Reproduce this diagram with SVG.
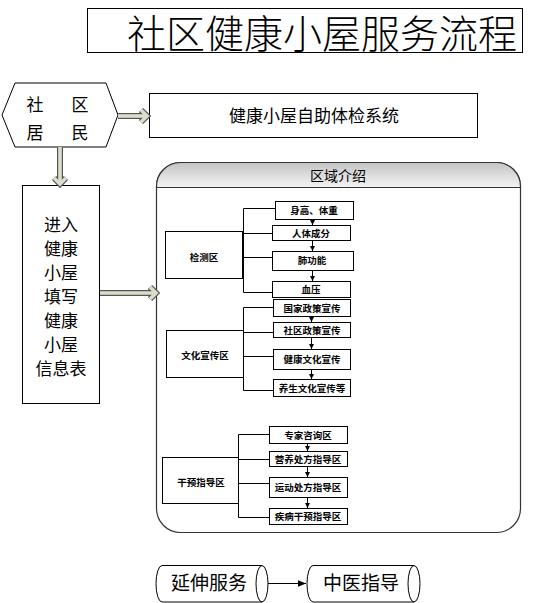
<svg xmlns="http://www.w3.org/2000/svg" width="553" height="603" viewBox="0 0 553 603">
<defs>
<linearGradient id="hdr" x1="0" y1="0" x2="0" y2="1">
<stop offset="0" stop-color="#c4c4c4"/>
<stop offset="1" stop-color="#f4f4f4"/>
</linearGradient>
<marker id="ah" viewBox="0 0 10 10" refX="10" refY="5" markerWidth="5" markerHeight="5" orient="auto" markerUnits="userSpaceOnUse">
<path d="M0,0 L10,5 L0,10 Z" fill="#000"/>
</marker>
<marker id="ah2" viewBox="0 0 10 10" refX="10" refY="5" markerWidth="8" markerHeight="8" orient="auto" markerUnits="userSpaceOnUse">
<path d="M0,1 L10,5 L0,9 Z" fill="#000"/>
</marker>
</defs>
<style>
text{font-family:"Noto Sans CJK SC","Liberation Sans",sans-serif;fill:#000;text-anchor:middle}
.box{fill:#fff;stroke:#000;stroke-width:1}
.sm{font-size:9.5px;font-weight:bold}
.fm{font-size:17px}
.br{fill:none;stroke:#000;stroke-width:1}
.big-o{fill:none;stroke:#555;stroke-width:6;stroke-linejoin:miter}
.big-i{fill:none;stroke:#dcdecb;stroke-width:3.6;stroke-linejoin:miter}
.sa{stroke:#000;stroke-width:1;marker-end:url(#ah)}
</style>
<rect width="553" height="603" fill="#fff"/>

<g id="title">
<rect x="87.5" y="8.5" width="435" height="44" class="box"/>
<text x="322" y="48" style="font-size:39px;font-weight:300">社区健康小屋服务流程</text>
</g>

<g id="resident">
<polygon points="2,115 15,83 106,83 118,115 106,147 15,147" class="box"/>
<text x="35" y="111" style="font-size:17px">社</text>
<text x="80" y="111" style="font-size:17px">区</text>
<text x="35" y="139" style="font-size:17px">居</text>
<text x="80" y="139" style="font-size:17px">民</text>
</g>

<g id="selfcheck">
<rect x="149.5" y="93.5" width="328" height="44" class="box"/>
<text x="314" y="122" style="font-size:17px">健康小屋自助体检系统</text>
</g>

<g id="form">
<rect x="22.5" y="185.5" width="77" height="218" class="box"/>
<text x="61" y="231" class="fm">进入</text>
<text x="61" y="255" class="fm">健康</text>
<text x="61" y="279" class="fm">小屋</text>
<text x="61" y="303" class="fm">填写</text>
<text x="61" y="327" class="fm">健康</text>
<text x="61" y="351" class="fm">小屋</text>
<text x="61" y="375" class="fm">信息表</text>
</g>

<g id="zones">
<rect x="156.5" y="162.5" width="364" height="370" rx="24" fill="#fff" stroke="#333" stroke-width="1.2"/>
<path d="M156.5,187.5 V186.5 A24,24 0 0 1 180.5,162.5 H496.5 A24,24 0 0 1 520.5,186.5 V187.5 Z" fill="url(#hdr)" stroke="#333" stroke-width="1.2"/>
<text x="338" y="181" style="font-size:14px">区域介绍</text>
</g>

<g id="zone-check">
<rect x="165.5" y="231.5" width="77" height="47" class="box"/>
<text x="204" y="261" class="sm">检测区</text>
<rect x="275.5" y="201.5" width="78" height="18" class="box"/>
<text x="314" y="214" class="sm">身高、体重</text>
<rect x="272.5" y="225.5" width="78" height="15" class="box"/>
<text x="311" y="237" class="sm">人体成分</text>
<rect x="272.5" y="251.5" width="81" height="19" class="box"/>
<text x="312" y="264" class="sm">肺功能</text>
<rect x="272.5" y="281.5" width="78" height="16" class="box"/>
<text x="311" y="293" class="sm">血压</text>
</g>

<g id="zone-culture">
<rect x="166.5" y="330.5" width="77" height="47" class="box"/>
<text x="205" y="359" class="sm">文化宣传区</text>
<rect x="273.5" y="299.5" width="77" height="17" class="box"/>
<text x="312" y="312" class="sm">国家政策宣传</text>
<rect x="273.5" y="322.5" width="77" height="15" class="box"/>
<text x="312" y="334" class="sm">社区政策宣传</text>
<rect x="273.5" y="349.5" width="77" height="20" class="box"/>
<text x="312" y="363" class="sm">健康文化宣传</text>
<rect x="273.5" y="379.5" width="77" height="17" class="box"/>
<text x="312" y="392" class="sm">养生文化宣传等</text>
</g>

<g id="zone-intervene">
<rect x="162.5" y="457.5" width="76" height="46" class="box"/>
<text x="201" y="486" class="sm">干预指导区</text>
<rect x="269.5" y="426.5" width="78" height="17" class="box"/>
<text x="308" y="439" class="sm">专家咨询区</text>
<rect x="269.5" y="451.5" width="78" height="15" class="box"/>
<text x="308" y="463" class="sm">营养处方指导区</text>
<rect x="269.5" y="477.5" width="78" height="20" class="box"/>
<text x="308" y="491" class="sm">运动处方指导区</text>
<rect x="269.5" y="508.5" width="78" height="16" class="box"/>
<text x="308" y="520" class="sm">疾病干预指导区</text>
</g>

<g id="extend">
<path d="M162,565.5 H262 A6,18.25 0 0 1 262,602 H162 A6,18.25 0 0 1 162,565.5 Z" class="box"/>
<path d="M262,565.5 A6,18.25 0 0 0 262,602" fill="none" stroke="#000"/>
<text x="209" y="590" style="font-size:19px">延伸服务</text>
</g>

<g id="tcm">
<path d="M313,565.5 H414 A6,18.25 0 0 1 414,602 H313 A6,18.25 0 0 1 313,565.5 Z" class="box"/>
<path d="M414,565.5 A6,18.25 0 0 0 414,602" fill="none" stroke="#000"/>
<text x="361" y="590" style="font-size:19px">中医指导</text>
</g>

<g id="connectors">
<polyline points="118,116 146,116" class="big-o"/>
<polyline points="141,110 147,116 141,122" class="big-o"/>
<polyline points="118,116 145,116" class="big-i"/>
<polyline points="141,110 147,116 141,122" class="big-i"/>

<polyline points="60,147 60,183" class="big-o"/>
<polyline points="54,178 60,184 66,178" class="big-o"/>
<polyline points="60,147 60,182" class="big-i"/>
<polyline points="54,178 60,184 66,178" class="big-i"/>

<polyline points="100,293 155,293" class="big-o"/>
<polyline points="150,287 156,293 150,299" class="big-o"/>
<polyline points="100,293 154,293" class="big-i"/>
<polyline points="150,287 156,293 150,299" class="big-i"/>

<path d="M275,208.5 H243.5 V292.5 H272 M243.5,233.5 H272 M243.5,257.5 H272" class="br"/>
<line x1="312.5" y1="220" x2="312.5" y2="225" class="sa"/>
<line x1="312.5" y1="241" x2="312.5" y2="251" class="sa"/>
<line x1="312.5" y1="271" x2="312.5" y2="281" class="sa"/>

<path d="M273,307.5 H243.5 V390.5 H273 M243.5,332.5 H273 M243.5,356.5 H273" class="br"/>
<line x1="311.5" y1="317" x2="311.5" y2="322" class="sa"/>
<line x1="311.5" y1="338" x2="311.5" y2="349" class="sa"/>
<line x1="311.5" y1="370" x2="311.5" y2="379" class="sa"/>

<path d="M269,434.5 H238.5 V517.5 H269 M238.5,459.5 H269 M238.5,483.5 H269" class="br"/>
<line x1="307.5" y1="444" x2="307.5" y2="451" class="sa"/>
<line x1="307.5" y1="467" x2="307.5" y2="477" class="sa"/>
<line x1="307.5" y1="498" x2="307.5" y2="508" class="sa"/>

<line x1="268" y1="583.5" x2="306" y2="583.5" stroke="#000" stroke-width="1" marker-end="url(#ah2)"/>
</g>
</svg>
